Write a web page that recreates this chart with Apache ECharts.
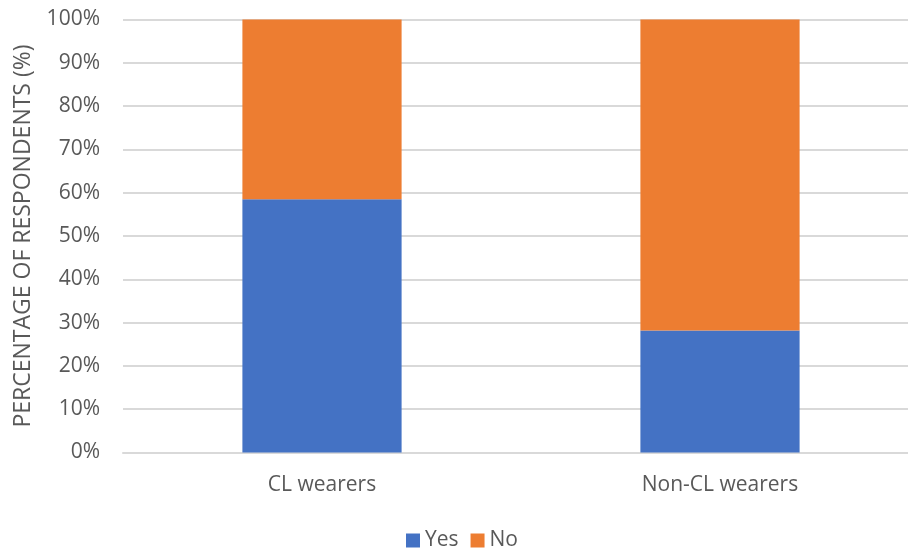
<!DOCTYPE html>
<html>
<head>
<meta charset="utf-8">
<script src="https://cdn.jsdelivr.net/npm/echarts@6/dist/echarts.min.js"></script>
<style>
  html, body { margin: 0; padding: 0; background: #ffffff; }
  #chart { width: 908px; height: 551px; }
</style>
</head>
<body>
<div id="chart"></div>
<script>
// Share of respondents answering Yes / No, by contact-lens wearing group
const categories = ['CL wearers', 'Non-CL wearers'];
const yesValues = [58.5, 28.2];
const noValues = [41.5, 71.8];
const yTicks = [0, 10, 20, 30, 40, 50, 60, 70, 80, 90, 100];

const chart = echarts.init(document.getElementById('chart'));
const font = '"Open Sans", "Noto Sans", sans-serif';
const fontSize = 21;

chart.setOption({
  animation: false,
  textStyle: { fontFamily: font },
  grid: {
    left: 123, top: 19.5, width: 796, height: 433,
    containLabel: false,
    outerBoundsMode: 'none'
  },
  legend: {
    top: 530,
    left: 406,
    padding: 0,
    itemWidth: 14,
    itemHeight: 14,
    itemGap: 12,
    icon: 'rect',
    textStyle: { color: '#595959', fontSize: fontSize, fontFamily: font },
    data: ['Yes', 'No']
  },
  xAxis: {
    type: 'category',
    data: categories,
    axisLine: { lineStyle: { color: '#d9d9d9', width: 2 } },
    axisTick: { show: false },
    axisLabel: { color: '#595959', fontSize: fontSize, margin: 22, fontFamily: font }
  },
  yAxis: {
    type: 'value',
    min: yTicks[0],
    max: yTicks[yTicks.length - 1],
    interval: 10,
    name: 'PERCENTAGE OF RESPONDENTS (%)',
    nameLocation: 'middle',
    nameRotate: 90,
    nameGap: 88,
    nameTextStyle: { color: '#595959', fontSize: 23, fontFamily: font },
    axisLine: { show: false },
    axisTick: { show: false },
    axisLabel: { color: '#595959', fontSize: fontSize, margin: 23, formatter: '{value}%', fontFamily: font },
    splitLine: { lineStyle: { color: '#d9d9d9', width: 2 } }
  },
  series: [
    {
      name: 'Yes',
      type: 'bar',
      stack: 'total',
      data: yesValues,
      barCategoryGap: '60%',
      itemStyle: { color: '#4472c4' }
    },
    {
      name: 'No',
      type: 'bar',
      stack: 'total',
      data: noValues,
      barCategoryGap: '60%',
      itemStyle: { color: '#ed7d31' }
    }
  ]
});
</script>
</body>
</html>
